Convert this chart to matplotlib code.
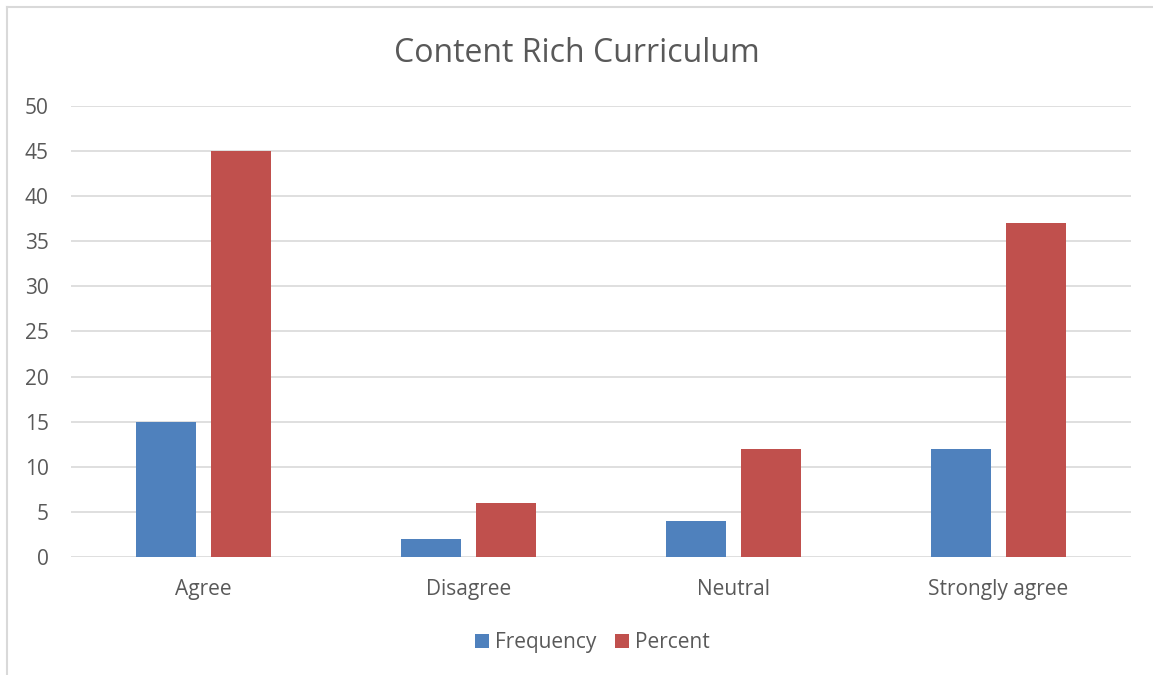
import matplotlib.pyplot as plt
import numpy as np

plt.rcParams['font.family'] = ['Open Sans', 'DejaVu Sans']

categories = ["Agree", "Disagree", "Neutral", "Strongly agree"]
frequency = [15, 2, 4, 12]
percent = [45, 6, 12, 37]

text_color = "#595959"
grid_color = "#D9D9D9"

fig = plt.figure(figsize=(11.53, 6.75), dpi=100)
ax = fig.add_axes([0.0616, 0.1748, 0.9194, 0.6682])

x = np.arange(len(categories))
w = 0.226
ax.bar(x - 0.1415, frequency, w, color="#4F81BD", label="Frequency", zorder=3)
ax.bar(x + 0.1415, percent, w, color="#C0504D", label="Percent", zorder=3)

ax.set_xlim(-0.5, len(categories) - 0.5)
ax.set_ylim(0, 50)
ax.set_yticks(range(0, 51, 5))
ax.set_xticks(x)
ax.set_xticklabels(categories)
ax.tick_params(axis="both", length=0, labelsize=15, colors=text_color)
ax.tick_params(axis="y", pad=16)
ax.tick_params(axis="x", pad=16)
ax.grid(axis="y", color=grid_color, linewidth=1.2, zorder=0)
for s in ax.spines.values():
    s.set_visible(False)

fig.suptitle("Content Rich Curriculum", y=0.945, fontsize=23, color=text_color)

ax.legend(loc="upper center", bbox_to_anchor=(0.492, -0.125), ncol=2, frameon=False,
          fontsize=15, labelcolor=text_color, handlelength=0.65, handleheight=0.65,
          handletextpad=0.3, columnspacing=0.9)

# chart border (left and top edges visible)
fig.add_artist(plt.Line2D([7 / 1153, 7 / 1153], [0, 1 - 7 / 675], color=grid_color, linewidth=1.5))
fig.add_artist(plt.Line2D([7 / 1153, 1], [1 - 7 / 675, 1 - 7 / 675], color=grid_color, linewidth=1.5))

plt.savefig("out.png")
